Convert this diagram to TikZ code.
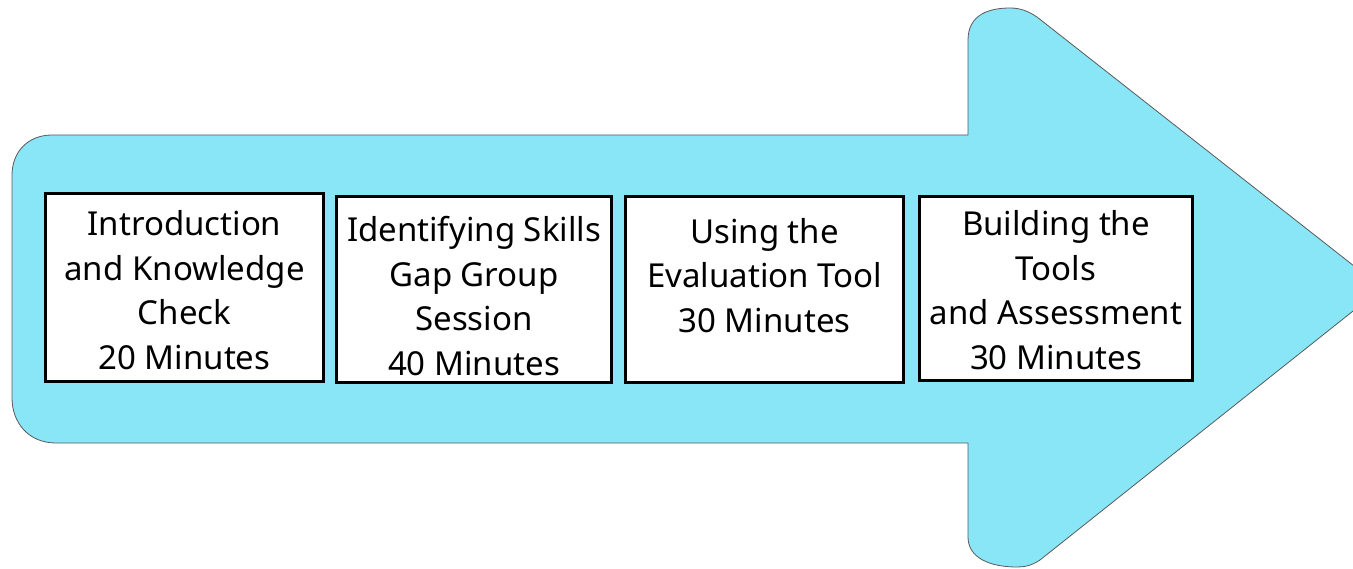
\documentclass[tikz,border=0pt]{standalone}
\usepackage{fontspec}
\setmainfont{Noto Sans}
\definecolor{arrowcyan}{RGB}{137,230,247}
\definecolor{edgegray}{RGB}{90,90,90}
\begin{document}
\begin{tikzpicture}[x=1pt,y=-1pt,
  stagebox/.style={draw=black,line width=3pt,fill=white,inner sep=0pt},
  stagetext/.style={align=center,inner sep=0pt,font=\fontsize{33}{44.5}\selectfont}]
\useasboundingbox (0,0) rectangle (1353,569);
\clip (0,0) rectangle (1353,569);
% big arrow
\path[fill=arrowcyan,draw=edgegray,line width=0.8pt]
  (52,135) -- (968,135) -- (968,40)
  .. controls (968,14) and (990,8) .. (1010,8)
  .. controls (1020,8) and (1028,11) .. (1037,17)
  -- (1382,288) -- (1040,560)
  .. controls (1031,566) and (1024,567) .. (1017,567)
  .. controls (990,567) and (968,558) .. (968,537)
  -- (968,443) -- (56,443)
  .. controls (28,443) and (12,422) .. (12,398)
  -- (12,175)
  .. controls (12,152) and (28,135) .. (52,135) -- cycle;
% boxes
\node[stagebox,minimum width=278pt,minimum height=188pt] (b1) at (184.5,288) {};
\node[stagebox,minimum width=275pt,minimum height=186pt] (b2) at (474,289.5) {};
\node[stagebox,minimum width=278pt,minimum height=186pt] (b3) at (764.5,289.5) {};
\node[stagebox,minimum width=273pt,minimum height=184pt] (b4) at (1056,288.5) {};
% texts
\node[stagetext] (t1) at (184.5,290) {Introduction\\and Knowledge\\Check\\20 Minutes};
\node[stagetext] (t2) at (474,296) {Identifying Skills\\Gap Group\\Session\\40 Minutes};
\node[stagetext] (t3) at (764.5,275.5) {Using the\\Evaluation Tool\\30 Minutes};
\node[stagetext] (t4) at (1056,290) {Building the\\Tools\\and Assessment\\30 Minutes};
\end{tikzpicture}
\end{document}
